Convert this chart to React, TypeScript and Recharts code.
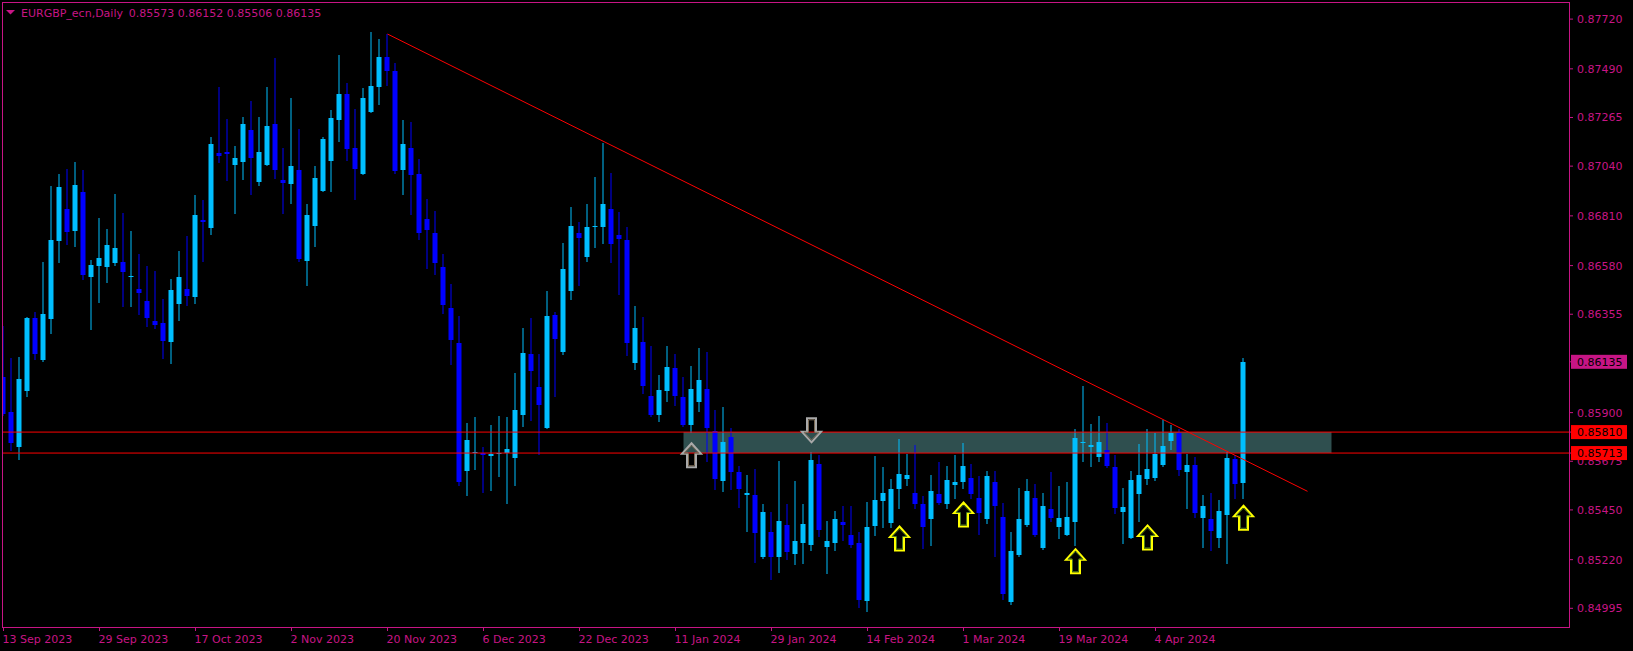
import React from 'react';
import { ComposedChart, Bar, XAxis, YAxis, ReferenceLine, ReferenceArea, ReferenceDot } from 'recharts';

// EURGBP daily candles, 13 Sep 2023 .. 19 Apr 2024
const opens = [
  0.86066, 0.85904, 0.85741, 0.86000, 0.86338, 0.86144, 0.86334, 0.86695, 0.86843, 0.86742,
  0.86922, 0.86528, 0.86578, 0.86574, 0.86594, 0.86597, 0.86530, 0.86473, 0.86415, 0.86325,
  0.86315, 0.86227, 0.86404, 0.86473, 0.86436, 0.86790, 0.86755, 0.87099, 0.87106, 0.87047,
  0.87060, 0.87208, 0.86968, 0.87047, 0.87235, 0.86976, 0.86958, 0.87020, 0.86601, 0.86765,
  0.86926, 0.87064, 0.87254, 0.87375, 0.87126, 0.87004, 0.87291, 0.87406, 0.87546, 0.87481,
  0.87020, 0.87126, 0.87004, 0.86797, 0.86732, 0.86574, 0.86384, 0.86223, 0.85632, 0.85714,
  0.85714, 0.85701, 0.85711, 0.85714, 0.85691, 0.85889, 0.86171, 0.86020, 0.85830, 0.86352,
  0.86181, 0.86463, 0.86732, 0.86621, 0.86757, 0.86759, 0.86843, 0.86722, 0.86699, 0.86131,
  0.86227, 0.85977, 0.85887, 0.86002, 0.86108, 0.85974, 0.85845, 0.85947, 0.86008, 0.85814,
  0.85582, 0.85787, 0.85624, 0.85517, 0.85520, 0.85230, 0.85349, 0.85230, 0.85380, 0.85244,
  0.85296, 0.85290, 0.85663, 0.85277, 0.85296, 0.85395, 0.85334, 0.85298, 0.85031, 0.85374,
  0.85490, 0.85388, 0.85549, 0.85595, 0.85530, 0.85478, 0.85407, 0.85524, 0.85476, 0.85563,
  0.85578, 0.85599, 0.85507, 0.85407, 0.85580, 0.85419, 0.85023, 0.85240, 0.85378, 0.85507,
  0.85273, 0.85455, 0.85369, 0.85336, 0.85392, 0.85760, 0.85743, 0.85697, 0.85728, 0.85649,
  0.85442, 0.85321, 0.85524, 0.85593, 0.85597, 0.85659, 0.85770, 0.85806, 0.85626, 0.85659,
  0.85413, 0.85409, 0.85321, 0.85428, 0.85684, 0.85573,
];
const highs = [
  0.86302, 0.86154, 0.86158, 0.86342, 0.86365, 0.86597, 0.86949, 0.87004, 0.87028, 0.87060,
  0.87024, 0.86605, 0.86801, 0.86749, 0.86912, 0.86822, 0.86742, 0.86632, 0.86578, 0.86553,
  0.86427, 0.86519, 0.86647, 0.86718, 0.86907, 0.86884, 0.87175, 0.87406, 0.87258, 0.87133,
  0.87268, 0.87342, 0.87268, 0.87406, 0.87540, 0.87126, 0.87356, 0.87212, 0.86866, 0.87039,
  0.87175, 0.87300, 0.87556, 0.87425, 0.87302, 0.87402, 0.87661, 0.87629, 0.87652, 0.87517,
  0.87254, 0.87245, 0.87074, 0.86886, 0.86834, 0.86632, 0.86496, 0.86346, 0.85853, 0.85881,
  0.85741, 0.85843, 0.85885, 0.85881, 0.86085, 0.86292, 0.86338, 0.86171, 0.86463, 0.86365,
  0.86686, 0.86851, 0.86782, 0.86866, 0.86991, 0.87149, 0.87008, 0.86828, 0.86759, 0.86394,
  0.86342, 0.86210, 0.86075, 0.86210, 0.86171, 0.86066, 0.86116, 0.86200, 0.86181, 0.85912,
  0.85927, 0.85830, 0.85655, 0.85613, 0.85639, 0.85476, 0.85442, 0.85678, 0.85476, 0.85584,
  0.85476, 0.85718, 0.85703, 0.85399, 0.85446, 0.85469, 0.85469, 0.85349, 0.85488, 0.85701,
  0.85647, 0.85593, 0.85780, 0.85710, 0.85751, 0.85515, 0.85613, 0.85672, 0.85655, 0.85705,
  0.85760, 0.85662, 0.85609, 0.85632, 0.85632, 0.85482, 0.85349, 0.85553, 0.85593, 0.85570,
  0.85530, 0.85626, 0.85561, 0.85580, 0.85826, 0.86023, 0.85849, 0.85885, 0.85851, 0.85705,
  0.85553, 0.85632, 0.85753, 0.85826, 0.85808, 0.85864, 0.85843, 0.85822, 0.85709, 0.85693,
  0.85520, 0.85528, 0.85497, 0.85720, 0.85703, 0.86152,
];
const lows = [
  0.85889, 0.85726, 0.85687, 0.85979, 0.86148, 0.86141, 0.86267, 0.86597, 0.86680, 0.86670,
  0.86519, 0.86288, 0.86413, 0.86505, 0.86584, 0.86394, 0.86394, 0.86357, 0.86302, 0.86290,
  0.86154, 0.86131, 0.86329, 0.86398, 0.86407, 0.86601, 0.86726, 0.87060, 0.86978, 0.86824,
  0.86982, 0.86909, 0.86951, 0.87045, 0.86985, 0.86824, 0.86870, 0.86601, 0.86492, 0.86670,
  0.86924, 0.86926, 0.87156, 0.87070, 0.86886, 0.87002, 0.87289, 0.87329, 0.87415, 0.87008,
  0.86912, 0.86820, 0.86701, 0.86571, 0.86542, 0.86363, 0.86123, 0.85563, 0.85520, 0.85639,
  0.85532, 0.85540, 0.85609, 0.85484, 0.85566, 0.85837, 0.85868, 0.85709, 0.85828, 0.85979,
  0.86171, 0.86427, 0.86492, 0.86601, 0.86667, 0.86686, 0.86597, 0.86450, 0.86167, 0.86100,
  0.85991, 0.85883, 0.85860, 0.85956, 0.85937, 0.85837, 0.85812, 0.85906, 0.85674, 0.85545,
  0.85536, 0.85545, 0.85463, 0.85353, 0.85209, 0.85228, 0.85129, 0.85165, 0.85221, 0.85198,
  0.85204, 0.85265, 0.85328, 0.85156, 0.85263, 0.85309, 0.85280, 0.85002, 0.84983, 0.85332,
  0.85369, 0.85369, 0.85457, 0.85563, 0.85457, 0.85275, 0.85286, 0.85476, 0.85457, 0.85505,
  0.85553, 0.85505, 0.85340, 0.85388, 0.85236, 0.85037, 0.85017, 0.85238, 0.85376, 0.85328,
  0.85271, 0.85397, 0.85319, 0.85334, 0.85286, 0.85674, 0.85651, 0.85678, 0.85649, 0.85438,
  0.85296, 0.85319, 0.85399, 0.85568, 0.85589, 0.85655, 0.85734, 0.85611, 0.85461, 0.85415,
  0.85280, 0.85265, 0.85277, 0.85204, 0.85507, 0.85506,
];
const closes = [
  0.85895, 0.85760, 0.86056, 0.86338, 0.86171, 0.86357, 0.86699, 0.86945, 0.86736, 0.86953,
  0.86538, 0.86584, 0.86617, 0.86676, 0.86663, 0.86551, 0.86534, 0.86454, 0.86336, 0.86306,
  0.86233, 0.86469, 0.86528, 0.86440, 0.86814, 0.86782, 0.87143, 0.87085, 0.87097, 0.87078,
  0.87235, 0.87078, 0.87106, 0.87227, 0.87024, 0.86962, 0.87041, 0.86611, 0.86814, 0.86985,
  0.87166, 0.87264, 0.87375, 0.87120, 0.87028, 0.87356, 0.87412, 0.87546, 0.87481, 0.87016,
  0.87143, 0.86997, 0.86732, 0.86743, 0.86594, 0.86398, 0.86237, 0.85580, 0.85774, 0.85718,
  0.85703, 0.85709, 0.85713, 0.85734, 0.85912, 0.86177, 0.86094, 0.85937, 0.86348, 0.86240,
  0.86565, 0.86765, 0.86709, 0.86759, 0.86765, 0.86866, 0.86682, 0.86701, 0.86223, 0.86292,
  0.86025, 0.85887, 0.86006, 0.86112, 0.85975, 0.85841, 0.86010, 0.86052, 0.85830, 0.85591,
  0.85764, 0.85624, 0.85545, 0.85530, 0.85342, 0.85442, 0.85230, 0.85399, 0.85254, 0.85307,
  0.85386, 0.85682, 0.85357, 0.85307, 0.85409, 0.85378, 0.85290, 0.85035, 0.85373, 0.85497,
  0.85530, 0.85547, 0.85616, 0.85613, 0.85476, 0.85369, 0.85538, 0.85480, 0.85589, 0.85580,
  0.85651, 0.85524, 0.85438, 0.85609, 0.85467, 0.85060, 0.85261, 0.85409, 0.85538, 0.85332,
  0.85469, 0.85411, 0.85411, 0.85419, 0.85783, 0.85762, 0.85751, 0.85764, 0.85651, 0.85457,
  0.85465, 0.85589, 0.85613, 0.85639, 0.85710, 0.85747, 0.85806, 0.85634, 0.85659, 0.85438,
  0.85467, 0.85353, 0.85446, 0.85691, 0.85570, 0.86135,
];

const dateLabels = [
  '13 Sep 2023', '29 Sep 2023', '17 Oct 2023', '2 Nov 2023', '20 Nov 2023', '6 Dec 2023',
  '22 Dec 2023', '11 Jan 2024', '29 Jan 2024', '14 Feb 2024', '1 Mar 2024', '19 Mar 2024', '4 Apr 2024',
];
const dateTickIdx = [0, 12, 24, 36, 48, 60, 72, 84, 96, 108, 120, 132, 144];

const priceTicks = [0.8772, 0.8749, 0.87265, 0.8704, 0.8681, 0.8658, 0.86355, 0.859, 0.85675, 0.8545, 0.8522, 0.84995];
// boxed labels on the price scale: current price and the two level lines
const markedPrices = [0.86135, 0.8581, 0.85713];
const levelLines = [0.8581, 0.85713];

// trendline anchors (bar index, price)
const trendFrom = { x: 48, y: 0.87651 };
const trendTo = { x: 163, y: 0.85536 };
// zone rectangle
const zoneBars = [85, 166];
const zonePrices = [0.85713, 0.8581];

// arrow objects
const arrowIdx = [86, 101, 112, 120, 134, 143, 155];
const arrowPrice = [0.85763, 0.85758, 0.85378, 0.85489, 0.85273, 0.85383, 0.85474];
const arrowDir = ['up', 'down', 'up', 'up', 'up', 'up', 'up'];
const arrowKind = ['grey', 'grey', 'yellow', 'yellow', 'yellow', 'yellow', 'yellow'];

const data = opens.map((o, i) => ({ i, o, h: highs[i], l: lows[i], c: closes[i] }));

const AXIS = '#C71585';
const BULL = '#00BFFF';
const BEAR = '#0000FF';
const FONT = '"DejaVu Sans", Verdana, sans-serif';

const Candle = (props: any) => {
  const { x, y, width, height, payload } = props;
  if (x == null || y == null) return null;
  const cx = x + width / 2;
  const top = Math.min(y, y + height);
  const hgt = Math.abs(height);
  const { o, h, l, c } = payload;
  const py = (p: number) => (h === l ? top : top + ((h - p) / (h - l)) * hgt);
  const color = c >= o ? BULL : BEAR;
  const bTop = Math.round(py(Math.max(o, c)));
  const bBot = Math.max(bTop + 1, Math.round(py(Math.min(o, c))));
  const left = Math.max(cx - 2.5, 3);
  return (
    <g>
      <line x1={cx} x2={cx} y1={Math.round(top)} y2={Math.round(top + hgt) + 1} stroke={color} strokeWidth={1} />
      <rect x={left} y={bTop} width={cx + 2.5 - left} height={bBot - bTop} fill={color} />
    </g>
  );
};

const arrowPath = (cx: number, cy: number, dir: string, inset: number) => {
  const s = dir === 'up' ? 1 : -1;
  const tip = cy + s * (1 + inset * 1.6);
  const neck = cy + s * (11.5 - inset * 0.3);
  const base = cy + s * (25 - inset);
  const wing = 9.5 - inset * 1.4;
  const shaft = 4.5 - inset;
  return [
    [cx, tip], [cx + wing, neck], [cx + shaft, neck], [cx + shaft, base],
    [cx - shaft, base], [cx - shaft, neck], [cx - wing, neck],
  ].map((p) => p.join(',')).join(' ');
};

const makeArrow = (dir: string, kind: string) => (props: any) => {
  const { cx, cy } = props;
  if (cx == null || cy == null) return null;
  const outer = kind === 'yellow' ? '#FFFF00' : '#A9A9A9';
  const inner = kind === 'yellow' ? '#4B7A1E' : '#7A6A55';
  return (
    <g>
      <polygon points={arrowPath(cx, cy, dir, 0)} fill="none" stroke={outer} strokeWidth={2} strokeLinejoin="miter" />
      <polygon points={arrowPath(cx, cy, dir, 1.5)} fill="none" stroke={inner} strokeWidth={1} />
    </g>
  );
};

const DateTick = (props: any) => {
  const { x, payload } = props;
  const k = dateTickIdx.indexOf(payload.value);
  if (k < 0) return null;
  return (
    <text x={x - 1} y={643} fill={AXIS} fontSize={11} fontFamily={FONT} textAnchor="start">
      {dateLabels[k]}
    </text>
  );
};

const PriceTick = (props: any) => {
  const { y, payload } = props;
  const v: number = payload.value;
  const marked = markedPrices.indexOf(v);
  if (marked >= 0) {
    const bg = marked === 0 ? AXIS : '#FF0000';
    return (
      <g>
        <rect x={1571} y={y - 7} width={56} height={14} fill={bg} />
        <text x={1577} y={y + 4} fill="#000000" fontSize={11} fontFamily={FONT}>
          {v.toFixed(5)}
        </text>
      </g>
    );
  }
  return (
    <text x={1577} y={y + 4} fill={AXIS} fontSize={11} fontFamily={FONT}>
      {v.toFixed(5)}
    </text>
  );
};

export default function App() {
  return (
    <div style={{ position: 'absolute', left: 0, top: 0, width: 1633, height: 651, background: '#000' }}>
      <ComposedChart width={1633} height={651} data={data} margin={{ top: 3, right: 0, bottom: 0, left: 3 }}>
        <XAxis
          dataKey="i"
          type="number"
          domain={[-0.0625, 195.6875]}
          allowDataOverflow
          ticks={dateTickIdx}
          interval={0}
          height={24}
          axisLine={false}
          tickLine={{ stroke: AXIS }}
          tickSize={4}
          tick={<DateTick />}
        />
        <YAxis
          type="number"
          orientation="right"
          domain={[0.849085, 0.877945]}
          allowDataOverflow
          ticks={[...priceTicks, ...markedPrices]}
          interval={0}
          width={64}
          axisLine={false}
          tickLine={{ stroke: AXIS }}
          tickSize={4}
          tick={<PriceTick />}
        />
        <ReferenceArea
          x1={zoneBars[0]}
          x2={zoneBars[1]}
          y1={zonePrices[0]}
          y2={zonePrices[1]}
          fill="#2F4F4F"
          fillOpacity={1}
          stroke="none"
        />
        <Bar dataKey={(d: any) => [d.l, d.h]} barSize={5} shape={<Candle />} isAnimationActive={false} />
        {levelLines.map((p) => (
          <ReferenceLine key={p} y={p} stroke="#FF0000" strokeWidth={1} />
        ))}
        <ReferenceLine segment={[trendFrom, trendTo]} stroke="#FF0000" strokeWidth={1} />
        {arrowIdx.map((idx, k) => (
          <ReferenceDot
            key={k}
            x={idx}
            y={arrowPrice[k]}
            r={1}
            shape={makeArrow(arrowDir[k], arrowKind[k])}
          />
        ))}
      </ComposedChart>
      <svg width={1633} height={651} style={{ position: 'absolute', left: 0, top: 0, pointerEvents: 'none' }}>
        <rect x={2.5} y={2.5} width={1567} height={625} fill="none" stroke={AXIS} strokeWidth={1} />
        <polygon points="6,10 15,10 10.5,14.5" fill={AXIS} />
        <text x={21} y={17} fill={AXIS} fontSize={11} fontFamily={FONT}>EURGBP_ecn,Daily</text>
        <text x={128.7} y={17} fill={AXIS} fontSize={11} fontFamily={FONT}>0.85573 0.86152 0.85506 0.86135</text>
      </svg>
    </div>
  );
}
